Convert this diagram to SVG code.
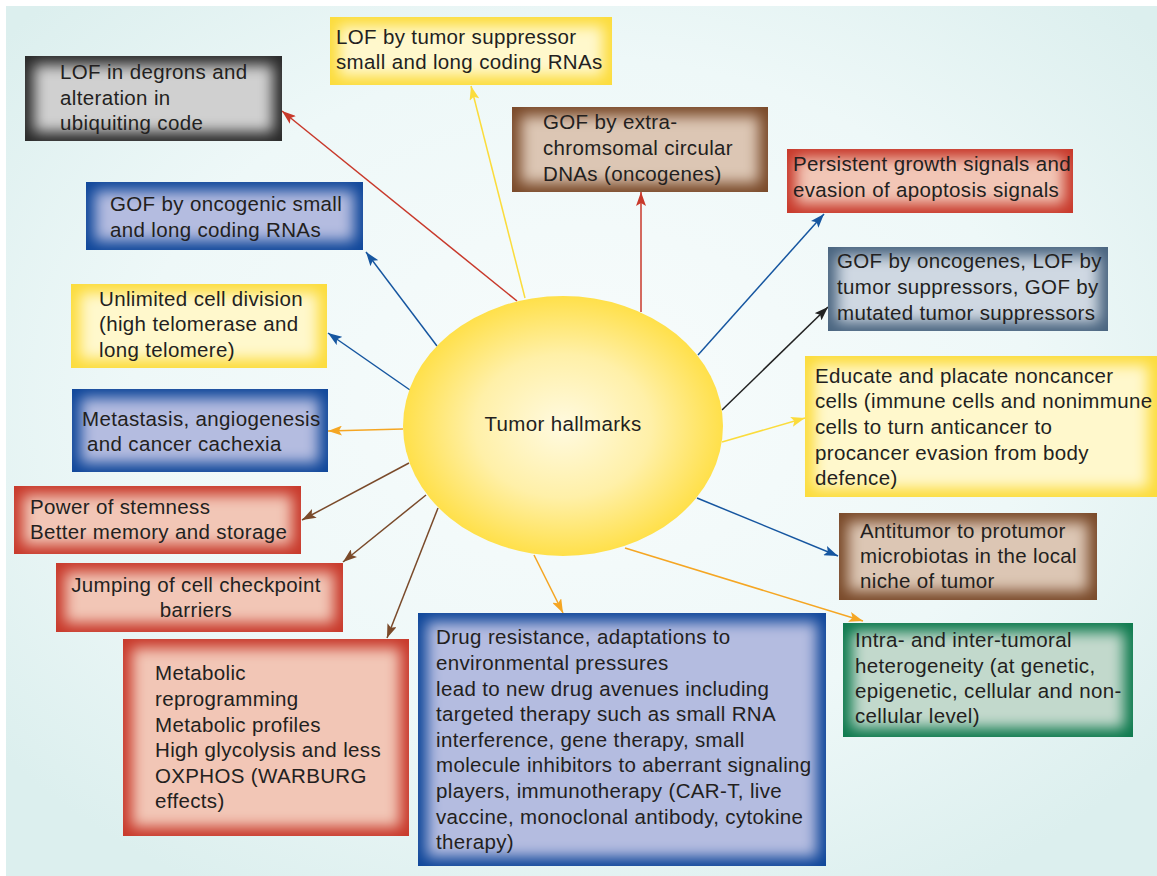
<svg xmlns="http://www.w3.org/2000/svg" width="1157" height="876" viewBox="0 0 1157 876">
<defs>
<radialGradient id="bg" cx="50%" cy="45%" r="65%">
<stop offset="0" stop-color="#f8fcfc"/>
<stop offset="0.6" stop-color="#eef8f8"/>
<stop offset="1" stop-color="#dcefee"/>
</radialGradient>
<radialGradient id="sun" cx="50%" cy="50%" r="50%">
<stop offset="0" stop-color="#fffae0"/>
<stop offset="0.55" stop-color="#fff0a8"/>
<stop offset="1" stop-color="#ffe04a"/>
</radialGradient>
<filter id="vig" x="0" y="0" width="100%" height="100%">
<feMorphology in="SourceGraphic" operator="erode" radius="9" result="e"/>
<feGaussianBlur in="e" stdDeviation="7" result="b"/>
<feComposite in="b" in2="SourceAlpha" operator="in"/>
</filter>
<marker id="m-red" markerUnits="userSpaceOnUse" viewBox="0 0 14 10" refX="14" refY="5" markerWidth="14" markerHeight="10" orient="auto"><path d="M0,0 L14,5 L0,10 L3,5 Z" fill="#c8392b"/></marker>
<marker id="m-yel" markerUnits="userSpaceOnUse" viewBox="0 0 14 10" refX="14" refY="5" markerWidth="14" markerHeight="10" orient="auto"><path d="M0,0 L14,5 L0,10 L3,5 Z" fill="#fbdc3c"/></marker>
<marker id="m-blu" markerUnits="userSpaceOnUse" viewBox="0 0 14 10" refX="14" refY="5" markerWidth="14" markerHeight="10" orient="auto"><path d="M0,0 L14,5 L0,10 L3,5 Z" fill="#1656a0"/></marker>
<marker id="m-blk" markerUnits="userSpaceOnUse" viewBox="0 0 14 10" refX="14" refY="5" markerWidth="14" markerHeight="10" orient="auto"><path d="M0,0 L14,5 L0,10 L3,5 Z" fill="#222222"/></marker>
<marker id="m-org" markerUnits="userSpaceOnUse" viewBox="0 0 14 10" refX="14" refY="5" markerWidth="14" markerHeight="10" orient="auto"><path d="M0,0 L14,5 L0,10 L3,5 Z" fill="#f5a623"/></marker>
<marker id="m-brn" markerUnits="userSpaceOnUse" viewBox="0 0 14 10" refX="14" refY="5" markerWidth="14" markerHeight="10" orient="auto"><path d="M0,0 L14,5 L0,10 L3,5 Z" fill="#7a4a2a"/></marker>
</defs>
<style>
text{font-family:"Liberation Sans",Arial,Helvetica,sans-serif;font-size:20.5px;letter-spacing:0.35px;fill:#231f20;}
.c{stroke-width:1.5;fill:none;}
.red{stroke:#c8392b;marker-end:url(#m-red);}
.yel{stroke:#fbdc3c;marker-end:url(#m-yel);}
.blu{stroke:#1656a0;marker-end:url(#m-blu);}
.blk{stroke:#222222;marker-end:url(#m-blk);}
.org{stroke:#f5a623;marker-end:url(#m-org);}
.brn{stroke:#7a4a2a;marker-end:url(#m-brn);}
.in{filter:url(#vig);}
.gE{fill:#2a2a2a}.gI{fill:#d0d0d0}
.yE{fill:#fcdc3c}.yI{fill:#fff8cc}
.bE{fill:#7a4a2a}.bI{fill:#dcc6b4}
.rE{fill:#c8392b}.rI{fill:#f2c6b6}
.sE{fill:#4a6580}.sI{fill:#cfd8e2}
.uE{fill:#10479a}.uI{fill:#b4bce0}
.nE{fill:#0e7a4e}.nI{fill:#c2d9cc}
</style>
<rect x="0" y="0" width="1157" height="876" fill="#ffffff"/>
<rect x="6" y="6" width="1151" height="870" fill="url(#bg)"/>
<g id="connectors">
<line class="c red" x1="517" y1="301" x2="282" y2="111"/>
<line class="c yel" x1="525" y1="298" x2="471" y2="86"/>
<line class="c red" x1="641" y1="312" x2="641" y2="192"/>
<line class="c blu" x1="698" y1="355" x2="824" y2="214"/>
<line class="c blk" x1="722" y1="410" x2="828" y2="307"/>
<line class="c yel" x1="722" y1="442" x2="805" y2="418"/>
<line class="c blu" x1="697" y1="498" x2="838" y2="556"/>
<line class="c org" x1="625" y1="548" x2="863" y2="621"/>
<line class="c org" x1="534" y1="555" x2="563" y2="613"/>
<line class="c brn" x1="438" y1="508" x2="387" y2="638"/>
<line class="c brn" x1="426" y1="495" x2="343" y2="562"/>
<line class="c brn" x1="409" y1="463" x2="302" y2="520"/>
<line class="c org" x1="403" y1="429" x2="328" y2="431"/>
<line class="c blu" x1="410" y1="390" x2="328" y2="333"/>
<line class="c blu" x1="437" y1="346" x2="366" y2="252"/>
</g>
<g id="hub">
<ellipse cx="563" cy="426" rx="160" ry="130" fill="url(#sun)"/>
<text x="563" y="431" text-anchor="middle">Tumor hallmarks</text>
</g>
<g id="n-degrons">
<rect class="gE" x="25" y="56" width="257" height="85"/>
<rect class="gI in" x="25" y="56" width="257" height="85"/>
<text x="60" y="79">LOF in degrons and</text>
<text x="60" y="105">alteration in</text>
<text x="60" y="130">ubiquiting code</text>
</g>
<g id="n-lof-rna">
<rect class="yE" x="330" y="17" width="282" height="68"/>
<rect class="yI in" x="330" y="17" width="282" height="68"/>
<text x="336" y="44">LOF by tumor suppressor</text>
<text x="336" y="69">small and long coding RNAs</text>
</g>
<g id="n-ecdna">
<rect class="bE" x="512" y="107" width="256" height="85"/>
<rect class="bI in" x="512" y="107" width="256" height="85"/>
<text x="543" y="129">GOF by extra-</text>
<text x="543" y="155">chromsomal circular</text>
<text x="543" y="181">DNAs (oncogenes)</text>
</g>
<g id="n-growth">
<rect class="rE" x="787" y="149" width="286" height="64"/>
<rect class="rI in" x="787" y="149" width="286" height="64"/>
<text x="793" y="171">Persistent growth signals and</text>
<text x="793" y="197">evasion of apoptosis signals</text>
</g>
<g id="n-oncogenes">
<rect class="sE" x="828" y="247" width="280" height="84"/>
<rect class="sI in" x="828" y="247" width="280" height="84"/>
<text x="837" y="268">GOF by oncogenes, LOF by</text>
<text x="837" y="294">tumor suppressors, GOF by</text>
<text x="837" y="320">mutated tumor suppressors</text>
</g>
<g id="n-educate">
<rect class="yE" x="805" y="356" width="352" height="141"/>
<rect class="yI in" x="805" y="356" width="352" height="141"/>
<text x="815" y="383">Educate and placate noncancer</text>
<text x="815" y="408">cells (immune cells and nonimmune</text>
<text x="815" y="434">cells to turn anticancer to</text>
<text x="815" y="460">procancer evasion from body</text>
<text x="815" y="485">defence)</text>
</g>
<g id="n-microbiota">
<rect class="bE" x="839" y="513" width="258" height="87"/>
<rect class="bI in" x="839" y="513" width="258" height="87"/>
<text x="860" y="538">Antitumor to protumor</text>
<text x="860" y="563">microbiotas in the local</text>
<text x="860" y="588">niche of tumor</text>
</g>
<g id="n-heterogeneity">
<rect class="nE" x="843" y="623" width="290" height="114"/>
<rect class="nI in" x="843" y="623" width="290" height="114"/>
<text x="855" y="647">Intra- and inter-tumoral</text>
<text x="855" y="673">heterogeneity (at genetic,</text>
<text x="855" y="698">epigenetic, cellular and non-</text>
<text x="855" y="723">cellular level)</text>
</g>
<g id="n-drug">
<rect class="uE" x="418" y="613" width="408" height="253"/>
<rect class="uI in" x="418" y="613" width="408" height="253"/>
<text x="436" y="644">Drug resistance, adaptations to</text>
<text x="436" y="670">environmental pressures</text>
<text x="436" y="696">lead to new drug avenues including</text>
<text x="436" y="721">targeted therapy such as small RNA</text>
<text x="436" y="747">interference, gene therapy, small</text>
<text x="436" y="772">molecule inhibitors to aberrant signaling</text>
<text x="436" y="798">players, immunotherapy (CAR-T, live</text>
<text x="436" y="824">vaccine, monoclonal antibody, cytokine</text>
<text x="436" y="849">therapy)</text>
</g>
<g id="n-metabolic">
<rect class="rE" x="123" y="639" width="286" height="197"/>
<rect class="rI in" x="123" y="639" width="286" height="197"/>
<text x="155" y="680">Metabolic</text>
<text x="155" y="706">reprogramming</text>
<text x="155" y="732">Metabolic profiles</text>
<text x="155" y="757">High glycolysis and less</text>
<text x="155" y="783">OXPHOS (WARBURG</text>
<text x="155" y="808">effects)</text>
</g>
<g id="n-checkpoint">
<rect class="rE" x="56" y="563" width="287" height="69"/>
<rect class="rI in" x="56" y="563" width="287" height="69"/>
<text x="196" y="592" text-anchor="middle">Jumping of cell checkpoint</text>
<text x="196" y="617" text-anchor="middle">barriers</text>
</g>
<g id="n-stemness">
<rect class="rE" x="14" y="486" width="287" height="68"/>
<rect class="rI in" x="14" y="486" width="287" height="68"/>
<text x="30" y="514">Power of stemness</text>
<text x="30" y="539">Better memory and storage</text>
</g>
<g id="n-metastasis">
<rect class="uE" x="72" y="389" width="256" height="83"/>
<rect class="uI in" x="72" y="389" width="256" height="83"/>
<text x="82" y="426">Metastasis, angiogenesis</text>
<text x="87" y="451">and cancer cachexia</text>
</g>
<g id="n-telomere">
<rect class="yE" x="71" y="284" width="256" height="84"/>
<rect class="yI in" x="71" y="284" width="256" height="84"/>
<text x="99" y="306">Unlimited cell division</text>
<text x="99" y="331">(high telomerase and</text>
<text x="99" y="357">long telomere)</text>
</g>
<g id="n-gof-rna">
<rect class="uE" x="86" y="182" width="277" height="68"/>
<rect class="uI in" x="86" y="182" width="277" height="68"/>
<text x="110" y="211">GOF by oncogenic small</text>
<text x="110" y="237">and long coding RNAs</text>
</g>
</svg>
